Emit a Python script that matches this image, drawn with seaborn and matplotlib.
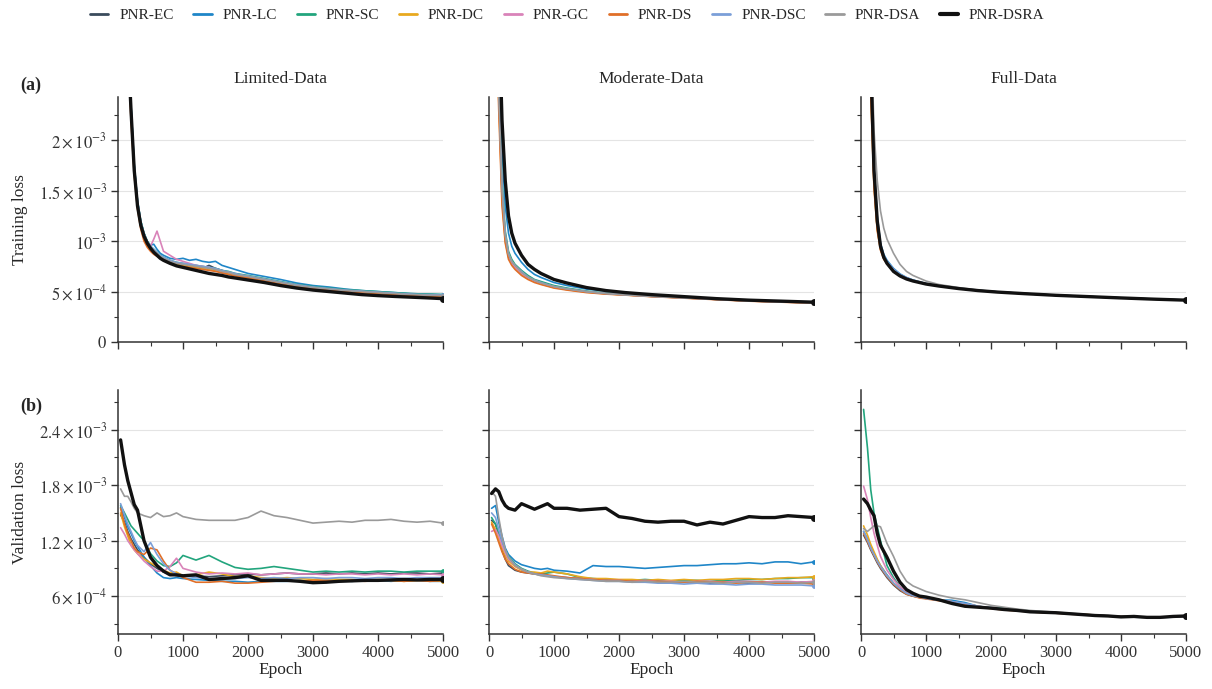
import numpy as np
import pandas as pd
import matplotlib
matplotlib.use("Agg")
import matplotlib.pyplot as plt
import seaborn as sns
from matplotlib.ticker import FixedLocator, FixedFormatter, MultipleLocator
from matplotlib.lines import Line2D

# ---------------- data (loss values in units of 1e-3) ----------------
models = ["PNR-EC", "PNR-LC", "PNR-SC", "PNR-DC", "PNR-GC", "PNR-DS", "PNR-DSC", "PNR-DSA", "PNR-DSRA"]
colors = ["#3a4b5c", "#1f86c8", "#22a57d", "#e8a91f", "#d983b9", "#e06f28", "#7b9fd8", "#9a9a9a", "#111111"]
scale = 1e-3
columns = ["Limited-Data", "Moderate-Data", "Full-Data"]

ep_train_lim = [100, 150, 200, 250, 300, 350, 400, 450, 500, 550, 600, 650, 700, 800, 900, 1000, 1100, 1200, 1300,
                1400, 1500, 1600, 1700, 1800, 1900, 2000, 2250, 2500, 2750, 3000, 3250, 3500, 3750, 4000, 4250, 4500,
                4750, 5000]
ep_train = [100, 150, 200, 250, 300, 350, 400, 500, 600, 700, 800, 1000, 1200, 1500, 1800, 2100, 2500, 3000, 3500,
            4000, 4500, 5000]
ep_val = [40, 100, 150, 200, 250, 300, 400, 500, 600, 700, 800, 900, 1000, 1200, 1400, 1600, 1800, 2000, 2200, 2400,
          2600, 2800, 3000, 3200, 3400, 3600, 3800, 4000, 4200, 4400, 4600, 4800, 5000]

# Training loss, Limited-Data
train_lim = {
    "PNR-EC":   [4.25, 3.05, 2.32, 1.73, 1.37, 1.17, 1.06, 0.98, 0.94, 0.91, 0.88, 0.85, 0.83, 0.80, 0.78, 0.77, 0.75, 0.74, 0.73, 0.76, 0.73, 0.71, 0.69, 0.675, 0.66, 0.65, 0.62, 0.59, 0.56, 0.54, 0.525, 0.51, 0.50, 0.49, 0.48, 0.47, 0.465, 0.46],
    "PNR-LC":   [4.3, 3.1, 2.35, 1.75, 1.4, 1.2, 1.08, 1.0, 0.96, 0.97, 0.92, 0.88, 0.86, 0.83, 0.82, 0.83, 0.81, 0.82, 0.80, 0.79, 0.80, 0.76, 0.74, 0.72, 0.70, 0.68, 0.65, 0.62, 0.585, 0.56, 0.545, 0.525, 0.51, 0.50, 0.49, 0.48, 0.475, 0.47],
    "PNR-SC":   [4.3, 3.1, 2.35, 1.75, 1.4, 1.2, 1.08, 1.0, 0.95, 0.92, 0.89, 0.86, 0.84, 0.81, 0.79, 0.78, 0.77, 0.76, 0.75, 0.74, 0.73, 0.71, 0.70, 0.68, 0.67, 0.66, 0.63, 0.60, 0.57, 0.55, 0.535, 0.52, 0.51, 0.50, 0.49, 0.48, 0.475, 0.47],
    "PNR-DC":   [4.2, 3.0, 2.28, 1.7, 1.36, 1.15, 1.04, 0.96, 0.92, 0.89, 0.86, 0.84, 0.82, 0.79, 0.77, 0.76, 0.75, 0.74, 0.73, 0.72, 0.71, 0.69, 0.68, 0.665, 0.65, 0.64, 0.61, 0.58, 0.555, 0.535, 0.52, 0.505, 0.495, 0.485, 0.475, 0.465, 0.46, 0.455],
    "PNR-GC":   [4.2, 3.0, 2.3, 1.72, 1.38, 1.18, 1.07, 0.99, 0.95, 1.02, 1.10, 1.0, 0.90, 0.86, 0.82, 0.80, 0.78, 0.76, 0.75, 0.74, 0.72, 0.70, 0.69, 0.67, 0.66, 0.65, 0.62, 0.59, 0.565, 0.54, 0.525, 0.51, 0.50, 0.49, 0.48, 0.47, 0.465, 0.46],
    "PNR-DS":   [4.1, 2.9, 2.2, 1.65, 1.32, 1.12, 1.0, 0.94, 0.90, 0.87, 0.85, 0.83, 0.81, 0.78, 0.76, 0.75, 0.74, 0.73, 0.72, 0.71, 0.70, 0.685, 0.67, 0.655, 0.645, 0.635, 0.605, 0.575, 0.55, 0.53, 0.515, 0.50, 0.49, 0.48, 0.47, 0.462, 0.456, 0.45],
    "PNR-DSC":  [4.3, 3.1, 2.35, 1.76, 1.4, 1.19, 1.07, 0.99, 0.95, 0.92, 0.89, 0.86, 0.84, 0.81, 0.79, 0.78, 0.77, 0.76, 0.75, 0.74, 0.73, 0.71, 0.695, 0.68, 0.665, 0.655, 0.625, 0.595, 0.565, 0.545, 0.53, 0.515, 0.505, 0.495, 0.485, 0.475, 0.47, 0.465],
    "PNR-DSA":  [4.2, 3.0, 2.3, 1.72, 1.37, 1.17, 1.06, 0.98, 0.94, 0.91, 0.88, 0.85, 0.83, 0.80, 0.78, 0.77, 0.76, 0.75, 0.74, 0.73, 0.72, 0.70, 0.69, 0.67, 0.66, 0.65, 0.62, 0.59, 0.56, 0.54, 0.525, 0.51, 0.50, 0.49, 0.48, 0.47, 0.465, 0.46],
    "PNR-DSRA": [4.2, 3.0, 2.3, 1.7, 1.35, 1.16, 1.05, 0.98, 0.93, 0.89, 0.86, 0.83, 0.81, 0.78, 0.755, 0.74, 0.725, 0.71, 0.695, 0.68, 0.67, 0.66, 0.645, 0.635, 0.625, 0.615, 0.59, 0.56, 0.535, 0.515, 0.50, 0.485, 0.47, 0.46, 0.452, 0.445, 0.438, 0.43],
}

# Training loss, Moderate-Data
train_mod = {
    "PNR-EC":   [3.8, 2.5, 1.5, 1.05, 0.87, 0.79, 0.75, 0.69, 0.64, 0.61, 0.585, 0.55, 0.525, 0.50, 0.48, 0.468, 0.453, 0.438, 0.423, 0.408, 0.398, 0.39],
    "PNR-LC":   [4.5, 3.0, 1.9, 1.35, 1.08, 0.95, 0.88, 0.79, 0.72, 0.67, 0.64, 0.59, 0.56, 0.525, 0.505, 0.485, 0.465, 0.445, 0.43, 0.415, 0.405, 0.395],
    "PNR-SC":   [4.0, 2.6, 1.6, 1.1, 0.9, 0.82, 0.77, 0.71, 0.66, 0.62, 0.60, 0.56, 0.535, 0.505, 0.485, 0.47, 0.455, 0.44, 0.425, 0.41, 0.40, 0.39],
    "PNR-DC":   [3.6, 2.4, 1.42, 1.0, 0.84, 0.77, 0.73, 0.67, 0.63, 0.60, 0.575, 0.54, 0.52, 0.495, 0.478, 0.466, 0.452, 0.437, 0.422, 0.407, 0.397, 0.388],
    "PNR-GC":   [3.7, 2.45, 1.45, 1.02, 0.85, 0.78, 0.74, 0.68, 0.635, 0.605, 0.58, 0.545, 0.52, 0.497, 0.479, 0.467, 0.452, 0.437, 0.422, 0.407, 0.397, 0.388],
    "PNR-DS":   [3.5, 2.3, 1.35, 0.98, 0.82, 0.76, 0.72, 0.66, 0.62, 0.59, 0.57, 0.535, 0.515, 0.49, 0.475, 0.465, 0.45, 0.435, 0.42, 0.405, 0.395, 0.385],
    "PNR-DSC":  [3.9, 2.55, 1.55, 1.07, 0.88, 0.80, 0.76, 0.70, 0.645, 0.615, 0.59, 0.55, 0.528, 0.50, 0.482, 0.469, 0.454, 0.439, 0.424, 0.409, 0.399, 0.39],
    "PNR-DSA":  [3.8, 2.5, 1.52, 1.06, 0.87, 0.80, 0.76, 0.69, 0.645, 0.61, 0.585, 0.55, 0.526, 0.50, 0.481, 0.468, 0.453, 0.438, 0.423, 0.408, 0.398, 0.39],
    "PNR-DSRA": [5.0, 3.3, 2.2, 1.6, 1.25, 1.08, 0.98, 0.86, 0.77, 0.72, 0.68, 0.62, 0.585, 0.54, 0.51, 0.49, 0.47, 0.45, 0.43, 0.415, 0.405, 0.395],
}

# Training loss, Full-Data
train_full = {
    "PNR-EC":   [4.3, 2.7, 1.65, 1.17, 0.94, 0.84, 0.785, 0.71, 0.66, 0.63, 0.607, 0.576, 0.556, 0.531, 0.511, 0.496, 0.48, 0.463, 0.45, 0.437, 0.425, 0.415],
    "PNR-LC":   [4.6, 2.9, 1.75, 1.25, 0.98, 0.87, 0.81, 0.73, 0.675, 0.64, 0.615, 0.58, 0.56, 0.535, 0.513, 0.497, 0.481, 0.464, 0.451, 0.438, 0.426, 0.416],
    "PNR-SC":   [4.4, 2.75, 1.68, 1.19, 0.95, 0.85, 0.79, 0.715, 0.665, 0.633, 0.61, 0.577, 0.557, 0.532, 0.511, 0.496, 0.48, 0.463, 0.45, 0.437, 0.425, 0.415],
    "PNR-DC":   [4.0, 2.5, 1.55, 1.12, 0.92, 0.83, 0.78, 0.705, 0.66, 0.63, 0.607, 0.576, 0.556, 0.531, 0.511, 0.496, 0.48, 0.463, 0.45, 0.437, 0.425, 0.415],
    "PNR-GC":   [4.2, 2.6, 1.6, 1.15, 0.93, 0.84, 0.785, 0.715, 0.665, 0.635, 0.61, 0.578, 0.557, 0.532, 0.512, 0.496, 0.48, 0.463, 0.45, 0.437, 0.425, 0.415],
    "PNR-DS":   [3.9, 2.45, 1.52, 1.1, 0.91, 0.82, 0.775, 0.70, 0.655, 0.627, 0.605, 0.575, 0.555, 0.53, 0.51, 0.495, 0.48, 0.463, 0.45, 0.437, 0.425, 0.415],
    "PNR-DSC":  [4.5, 2.85, 1.72, 1.22, 0.97, 0.86, 0.80, 0.725, 0.67, 0.637, 0.612, 0.579, 0.558, 0.533, 0.512, 0.497, 0.481, 0.464, 0.451, 0.438, 0.426, 0.416],
    "PNR-DSA":  [4.7, 3.2, 2.1, 1.6, 1.3, 1.13, 1.02, 0.88, 0.77, 0.70, 0.66, 0.605, 0.57, 0.54, 0.515, 0.498, 0.482, 0.465, 0.452, 0.438, 0.426, 0.416],
    "PNR-DSRA": [4.5, 2.8, 1.7, 1.2, 0.95, 0.84, 0.78, 0.70, 0.655, 0.625, 0.605, 0.575, 0.555, 0.53, 0.51, 0.495, 0.48, 0.463, 0.45, 0.437, 0.425, 0.415],
}

# Validation loss, Limited-Data
val_lim = {
    "PNR-EC":   [1.48, 1.40, 1.30, 1.22, 1.16, 1.10, 1.02, 0.95, 0.90, 0.86, 0.84, 0.82, 0.81, 0.82, 0.81, 0.82, 0.83, 0.84, 0.83, 0.84, 0.85, 0.84, 0.84, 0.85, 0.84, 0.85, 0.84, 0.85, 0.84, 0.85, 0.85, 0.84, 0.85],
    "PNR-LC":   [1.56, 1.45, 1.35, 1.28, 1.20, 1.14, 1.02, 0.93, 0.85, 0.80, 0.79, 0.80, 0.79, 0.78, 0.77, 0.76, 0.76, 0.75, 0.76, 0.76, 0.76, 0.77, 0.76, 0.77, 0.77, 0.76, 0.77, 0.77, 0.76, 0.77, 0.77, 0.76, 0.76],
    "PNR-SC":   [1.58, 1.50, 1.43, 1.36, 1.32, 1.28, 1.20, 1.06, 0.98, 0.93, 0.92, 0.96, 1.04, 0.99, 1.04, 0.97, 0.91, 0.89, 0.90, 0.92, 0.90, 0.88, 0.86, 0.87, 0.86, 0.87, 0.86, 0.87, 0.87, 0.86, 0.87, 0.87, 0.87],
    "PNR-DC":   [1.50, 1.35, 1.25, 1.15, 1.10, 1.06, 1.00, 0.96, 0.92, 0.88, 0.85, 0.86, 0.82, 0.83, 0.86, 0.84, 0.81, 0.82, 0.80, 0.79, 0.80, 0.79, 0.78, 0.79, 0.78, 0.78, 0.77, 0.78, 0.77, 0.76, 0.77, 0.77, 0.76],
    "PNR-GC":   [1.34, 1.27, 1.20, 1.15, 1.10, 1.06, 0.98, 0.92, 0.87, 0.87, 0.92, 1.01, 0.90, 0.86, 0.84, 0.85, 0.84, 0.85, 0.83, 0.84, 0.85, 0.84, 0.84, 0.83, 0.84, 0.84, 0.83, 0.84, 0.83, 0.84, 0.83, 0.84, 0.83],
    "PNR-DS":   [1.55, 1.38, 1.28, 1.20, 1.12, 1.08, 1.05, 1.12, 1.10, 0.98, 0.88, 0.84, 0.80, 0.75, 0.75, 0.76, 0.74, 0.74, 0.75, 0.76, 0.77, 0.76, 0.77, 0.77, 0.76, 0.77, 0.76, 0.77, 0.77, 0.76, 0.77, 0.76, 0.77],
    "PNR-DSC":  [1.60, 1.48, 1.38, 1.30, 1.22, 1.15, 1.08, 1.18, 1.05, 0.95, 0.88, 0.84, 0.82, 0.80, 0.79, 0.78, 0.79, 0.80, 0.79, 0.80, 0.79, 0.80, 0.80, 0.79, 0.80, 0.80, 0.79, 0.80, 0.80, 0.79, 0.80, 0.80, 0.80],
    "PNR-DSA":  [1.76, 1.68, 1.68, 1.62, 1.55, 1.50, 1.47, 1.45, 1.50, 1.46, 1.47, 1.50, 1.46, 1.43, 1.42, 1.42, 1.42, 1.45, 1.52, 1.47, 1.45, 1.42, 1.39, 1.40, 1.41, 1.40, 1.42, 1.42, 1.43, 1.41, 1.40, 1.41, 1.39],
    "PNR-DSRA": [2.29, 2.02, 1.85, 1.72, 1.59, 1.53, 1.20, 1.02, 0.93, 0.87, 0.83, 0.83, 0.82, 0.83, 0.78, 0.79, 0.80, 0.82, 0.77, 0.77, 0.77, 0.76, 0.745, 0.75, 0.76, 0.765, 0.77, 0.77, 0.775, 0.78, 0.775, 0.78, 0.78],
}

# Validation loss, Moderate-Data
val_mod = {
    "PNR-EC":   [1.42, 1.38, 1.25, 1.10, 1.00, 0.93, 0.88, 0.86, 0.85, 0.84, 0.83, 0.82, 0.81, 0.80, 0.79, 0.78, 0.77, 0.77, 0.76, 0.76, 0.75, 0.75, 0.75, 0.75, 0.74, 0.75, 0.75, 0.74, 0.75, 0.75, 0.74, 0.75, 0.75],
    "PNR-LC":   [1.55, 1.58, 1.40, 1.25, 1.12, 1.05, 0.98, 0.94, 0.92, 0.90, 0.89, 0.90, 0.88, 0.87, 0.85, 0.93, 0.92, 0.92, 0.91, 0.90, 0.91, 0.92, 0.93, 0.93, 0.94, 0.95, 0.95, 0.96, 0.95, 0.97, 0.97, 0.95, 0.97],
    "PNR-SC":   [1.45, 1.38, 1.28, 1.18, 1.10, 1.03, 0.95, 0.90, 0.87, 0.85, 0.84, 0.85, 0.86, 0.84, 0.80, 0.79, 0.78, 0.77, 0.77, 0.78, 0.77, 0.76, 0.77, 0.77, 0.76, 0.77, 0.77, 0.78, 0.78, 0.79, 0.79, 0.80, 0.80],
    "PNR-DC":   [1.40, 1.32, 1.22, 1.12, 1.04, 0.98, 0.92, 0.88, 0.86, 0.86, 0.85, 0.87, 0.86, 0.84, 0.81, 0.79, 0.79, 0.78, 0.78, 0.77, 0.78, 0.77, 0.78, 0.77, 0.78, 0.78, 0.79, 0.79, 0.78, 0.79, 0.80, 0.80, 0.81],
    "PNR-GC":   [1.30, 1.32, 1.25, 1.15, 1.07, 1.00, 0.93, 0.89, 0.86, 0.84, 0.83, 0.82, 0.81, 0.80, 0.79, 0.78, 0.77, 0.77, 0.76, 0.77, 0.76, 0.76, 0.75, 0.76, 0.76, 0.75, 0.76, 0.76, 0.75, 0.76, 0.76, 0.75, 0.76],
    "PNR-DS":   [1.38, 1.28, 1.18, 1.08, 1.00, 0.95, 0.89, 0.86, 0.85, 0.84, 0.84, 0.83, 0.82, 0.80, 0.79, 0.78, 0.77, 0.77, 0.76, 0.76, 0.76, 0.75, 0.75, 0.76, 0.75, 0.75, 0.74, 0.75, 0.75, 0.74, 0.74, 0.74, 0.73],
    "PNR-DSC":  [1.50, 1.45, 1.32, 1.20, 1.10, 1.02, 0.94, 0.89, 0.86, 0.84, 0.83, 0.82, 0.81, 0.79, 0.78, 0.77, 0.76, 0.76, 0.75, 0.75, 0.74, 0.74, 0.73, 0.74, 0.73, 0.73, 0.72, 0.73, 0.73, 0.72, 0.72, 0.72, 0.71],
    "PNR-DSA":  [1.73, 1.68, 1.45, 1.25, 1.10, 1.02, 0.93, 0.89, 0.86, 0.84, 0.82, 0.81, 0.80, 0.79, 0.78, 0.77, 0.76, 0.76, 0.75, 0.76, 0.75, 0.75, 0.76, 0.75, 0.75, 0.74, 0.75, 0.75, 0.74, 0.75, 0.75, 0.74, 0.75],
    "PNR-DSRA": [1.71, 1.76, 1.73, 1.64, 1.58, 1.55, 1.53, 1.60, 1.57, 1.54, 1.57, 1.60, 1.55, 1.55, 1.53, 1.54, 1.55, 1.46, 1.44, 1.41, 1.40, 1.41, 1.41, 1.37, 1.40, 1.38, 1.42, 1.46, 1.45, 1.45, 1.47, 1.46, 1.45],
}

# Validation loss, Full-Data
val_full = {
    "PNR-EC":   [1.26, 1.18, 1.10, 1.03, 0.96, 0.90, 0.80, 0.72, 0.66, 0.62, 0.60, 0.585, 0.575, 0.555, 0.535, 0.515, 0.49, 0.47, 0.455, 0.445, 0.435, 0.425, 0.42, 0.41, 0.40, 0.395, 0.385, 0.38, 0.375, 0.372, 0.37, 0.375, 0.38],
    "PNR-LC":   [1.30, 1.22, 1.13, 1.06, 0.99, 0.93, 0.83, 0.74, 0.68, 0.63, 0.60, 0.59, 0.575, 0.56, 0.555, 0.53, 0.49, 0.475, 0.46, 0.445, 0.435, 0.425, 0.415, 0.41, 0.40, 0.39, 0.385, 0.375, 0.372, 0.37, 0.37, 0.372, 0.375],
    "PNR-SC":   [2.62, 2.20, 1.75, 1.50, 1.35, 1.20, 0.93, 0.80, 0.70, 0.64, 0.61, 0.59, 0.58, 0.56, 0.53, 0.50, 0.48, 0.47, 0.47, 0.45, 0.44, 0.43, 0.42, 0.41, 0.40, 0.395, 0.385, 0.38, 0.377, 0.373, 0.372, 0.375, 0.38],
    "PNR-DC":   [1.36, 1.26, 1.16, 1.08, 1.00, 0.93, 0.82, 0.74, 0.68, 0.63, 0.61, 0.59, 0.58, 0.56, 0.54, 0.515, 0.49, 0.47, 0.455, 0.445, 0.435, 0.425, 0.42, 0.41, 0.405, 0.395, 0.385, 0.38, 0.375, 0.372, 0.372, 0.375, 0.38],
    "PNR-GC":   [1.79, 1.64, 1.45, 1.28, 1.15, 1.03, 0.88, 0.78, 0.70, 0.65, 0.62, 0.60, 0.585, 0.56, 0.54, 0.515, 0.49, 0.47, 0.455, 0.445, 0.435, 0.425, 0.42, 0.41, 0.40, 0.395, 0.385, 0.38, 0.375, 0.372, 0.37, 0.375, 0.38],
    "PNR-DS":   [1.28, 1.19, 1.11, 1.04, 0.97, 0.91, 0.81, 0.73, 0.67, 0.62, 0.60, 0.58, 0.57, 0.55, 0.53, 0.51, 0.485, 0.465, 0.45, 0.44, 0.43, 0.42, 0.415, 0.405, 0.40, 0.39, 0.383, 0.378, 0.373, 0.37, 0.37, 0.373, 0.378],
    "PNR-DSC":  [1.30, 1.21, 1.12, 1.05, 0.98, 0.92, 0.82, 0.74, 0.68, 0.63, 0.605, 0.59, 0.575, 0.555, 0.54, 0.52, 0.49, 0.47, 0.455, 0.445, 0.435, 0.425, 0.418, 0.41, 0.40, 0.392, 0.385, 0.378, 0.374, 0.371, 0.37, 0.373, 0.378],
    "PNR-DSA":  [1.33, 1.30, 1.33, 1.36, 1.36, 1.35, 1.17, 1.03, 0.87, 0.76, 0.71, 0.68, 0.65, 0.61, 0.58, 0.56, 0.53, 0.50, 0.48, 0.46, 0.445, 0.435, 0.425, 0.415, 0.405, 0.395, 0.388, 0.38, 0.376, 0.373, 0.372, 0.375, 0.38],
    "PNR-DSRA": [1.65, 1.60, 1.53, 1.47, 1.28, 1.15, 1.02, 0.87, 0.75, 0.67, 0.63, 0.60, 0.59, 0.56, 0.52, 0.49, 0.48, 0.47, 0.455, 0.445, 0.43, 0.425, 0.42, 0.41, 0.40, 0.39, 0.385, 0.375, 0.38, 0.37, 0.37, 0.38, 0.385],
}

train_sets = [(ep_train_lim, train_lim), (ep_train, train_mod), (ep_train, train_full)]
val_sets = [(ep_val, val_lim), (ep_val, val_mod), (ep_val, val_full)]

train_yticks = [0, 0.5, 1.0, 1.5, 2.0]
train_ylabels = [r"$0$", r"$5\times10^{-4}$", r"$10^{-3}$", r"$1.5\times10^{-3}$", r"$2\times10^{-3}$"]
val_yticks = [0.6, 1.2, 1.8, 2.4]
val_ylabels = [r"$6\times10^{-4}$", r"$1.2\times10^{-3}$", r"$1.8\times10^{-3}$", r"$2.4\times10^{-3}$"]
xticks = [0, 1000, 2000, 3000, 4000, 5000]

# ---------------- style ----------------
sns.set_theme(style="ticks")
plt.rcParams["font.family"] = ["Liberation Serif", "DejaVu Serif"]
plt.rcParams["mathtext.fontset"] = "stix"
plt.rcParams["axes.edgecolor"] = "#333333"
plt.rcParams["xtick.color"] = "#333333"
plt.rcParams["ytick.color"] = "#333333"

fig = plt.figure(figsize=(12.12, 6.89), dpi=100)
lefts = [118 / 1212, 489 / 1212, 861 / 1212]
w = 325 / 1212
row_bottoms = [1 - 342 / 689, 1 - 634 / 689]
h = 245 / 689

def style_axis(ax, yticks, ylabels, ylim, yminor, show_ylabels, show_xlabels):
    ax.set_xlim(0, 5000)
    ax.set_ylim(*ylim)
    ax.xaxis.set_major_locator(FixedLocator([t for t in xticks]))
    ax.xaxis.set_minor_locator(MultipleLocator(500))
    ax.yaxis.set_major_locator(FixedLocator([t * scale for t in yticks]))
    ax.yaxis.set_minor_locator(MultipleLocator(yminor * scale))
    if show_ylabels:
        ax.yaxis.set_major_formatter(FixedFormatter(ylabels))
    else:
        ax.set_yticklabels([])
    if not show_xlabels:
        ax.set_xticklabels([])
    ax.tick_params(which="major", length=5, width=1.0, labelsize=12, pad=3, direction="out")
    ax.tick_params(which="minor", length=3, width=0.8, direction="out")
    ax.grid(axis="y", which="major", color="#e4e4e4", lw=0.8)
    ax.set_axisbelow(True)
    for s in ["left", "bottom"]:
        ax.spines[s].set_linewidth(1.1)
    sns.despine(ax=ax)

def draw(ax, epochs, data):
    for name, col in zip(models, colors):
        thick = name == "PNR-DSRA"
        sns.lineplot(x=epochs, y=np.array(data[name]) * scale, ax=ax, color=col,
                     lw=2.4 if thick else 1.2, zorder=10 if thick else 3,
                     marker="o", markevery=[-1], markersize=5 if thick else 3.5,
                     markeredgewidth=0, legend=False, errorbar=None)
    ax.set_xlabel("")
    ax.set_ylabel("")

for j in range(3):
    ax = fig.add_axes([lefts[j], row_bottoms[0], w, h])
    draw(ax, *train_sets[j])
    style_axis(ax, train_yticks, train_ylabels, (0, 2.43 * scale), 0.25, j == 0, False)
    ax.set_title(columns[j], fontsize=12.5, pad=10)
    if j == 0:
        ax.set_ylabel("Training loss", fontsize=12.5, labelpad=8)

    ax2 = fig.add_axes([lefts[j], row_bottoms[1], w, 244 / 689])
    draw(ax2, *val_sets[j])
    style_axis(ax2, val_yticks, val_ylabels, (0.19 * scale, 2.83 * scale), 0.3, j == 0, True)
    ax2.set_xlabel("Epoch", fontsize=12.5, labelpad=1)
    if j == 0:
        ax2.set_ylabel("Validation loss", fontsize=12.5, labelpad=8)

fig.text(20 / 1212, 1 - 85 / 689, "(a)", fontsize=13, fontweight="bold", va="center", ha="left")
fig.text(20 / 1212, 1 - 406 / 689, "(b)", fontsize=13, fontweight="bold", va="center", ha="left")

handles = [Line2D([0], [0], color=c, lw=3.0 if m == "PNR-DSRA" else 2.0) for m, c in zip(models, colors)]
fig.legend(handles, models, loc="center", bbox_to_anchor=(0.468, 1 - 15 / 689), ncol=9, frameon=False,
           fontsize=11, handlelength=1.2, handletextpad=0.7, columnspacing=1.3)

fig.savefig("out.png", dpi=100)
